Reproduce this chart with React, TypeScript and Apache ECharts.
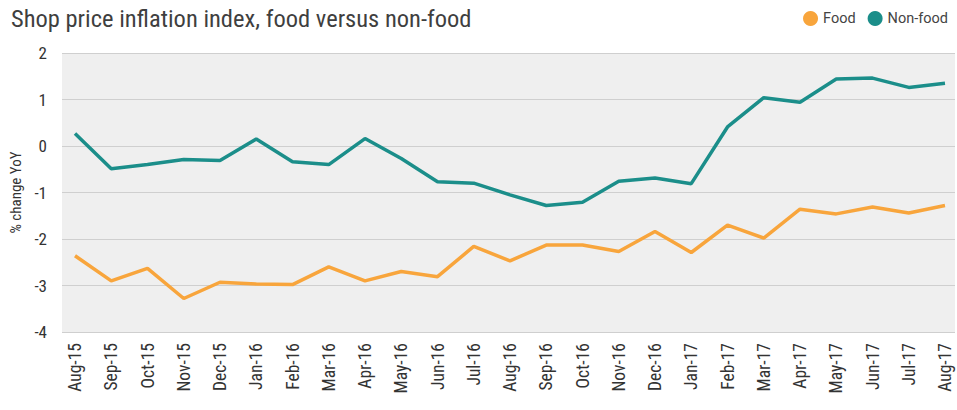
import React, { useEffect, useRef } from "react";
import * as echarts from "echarts";

const categories = [
  "Aug-15","Sep-15","Oct-15","Nov-15","Dec-15","Jan-16","Feb-16","Mar-16","Apr-16","May-16","Jun-16","Jul-16",
  "Aug-16","Sep-16","Oct-16","Nov-16","Dec-16","Jan-17","Feb-17","Mar-17","Apr-17","May-17","Jun-17","Jul-17","Aug-17",
];
const foodValues = [
  -2.36, -2.9, -2.63, -3.28, -2.93, -2.97, -2.98, -2.6, -2.9, -2.7, -2.81, -2.16,
  -2.47, -2.13, -2.13, -2.27, -1.84, -2.29, -1.7, -1.98, -1.36, -1.46, -1.31, -1.44, -1.28,
];
const nonFoodValues = [
  0.27, -0.49, -0.4, -0.29, -0.31, 0.15, -0.34, -0.4, 0.16, -0.27, -0.77, -0.8,
  -1.05, -1.28, -1.21, -0.76, -0.69, -0.81, 0.41, 1.04, 0.94, 1.44, 1.46, 1.26, 1.35,
];
const yTicks = { min: -4, max: 2, interval: 1 };

const FONT = "'Roboto Condensed', Roboto, sans-serif";
const ORANGE = "#f8a53c";
const TEAL = "#1b8e8a";

export default function App() {
  const ref = useRef<HTMLDivElement>(null);
  useEffect(() => {
    if (!ref.current) return;
    const chart = echarts.init(ref.current, undefined, { renderer: "svg" });
    chart.setOption({
      animation: false,
      backgroundColor: "#ffffff",
      title: {
        text: "Shop price inflation index, food versus non-food",
        left: 6,
        top: 1,
        textStyle: { fontFamily: FONT, fontSize: 24.5, fontWeight: "normal", color: "#3f3f3f" },
      },
      legend: {
        right: 4,
        top: 6,
        icon: "circle",
        itemWidth: 15,
        itemHeight: 15,
        itemGap: 12,
        textStyle: { fontFamily: "Roboto, sans-serif", fontSize: 14.5, color: "#444444" },
        data: ["Food", "Non-food"],
      },
      grid: [
        { left: 62, right: 2, top: 53, bottom: 78, show: true, backgroundColor: "#efefef", borderWidth: 0 },
        { left: 75, right: 12, top: 53, bottom: 78 },
      ],
      xAxis: [
        { type: "value", gridIndex: 0, min: 0, max: 1, show: false },
        {
          type: "category",
          gridIndex: 1,
          data: categories,
          boundaryGap: false,
          axisLine: { show: false },
          axisTick: { show: false },
          axisLabel: { rotate: 90, interval: 0, margin: 11, fontFamily: FONT, fontSize: 17.5, color: "#333333" },
        },
      ],
      yAxis: [
        {
          type: "value",
          gridIndex: 0,
          min: yTicks.min,
          max: yTicks.max,
          interval: yTicks.interval,
          name: "% change YoY",
          nameLocation: "middle",
          nameGap: 38,
          nameTextStyle: { fontFamily: FONT, fontSize: 15, color: "#333333" },
          axisLine: { show: false },
          axisTick: { show: false },
          axisLabel: { margin: 15, fontFamily: FONT, fontSize: 17, color: "#333333" },
          splitLine: { show: true, lineStyle: { color: "#cfcfcf", width: 1 } },
        },
        {
          type: "value",
          gridIndex: 1,
          min: yTicks.min,
          max: yTicks.max,
          interval: yTicks.interval,
          show: false,
          splitLine: { show: false },
        },
      ],
      series: [
        {
          name: "Food",
          type: "line",
          xAxisIndex: 1,
          yAxisIndex: 1,
          data: foodValues,
          symbol: "none",
          color: ORANGE,
          lineStyle: { width: 3.5, color: ORANGE },
        },
        {
          name: "Non-food",
          type: "line",
          xAxisIndex: 1,
          yAxisIndex: 1,
          data: nonFoodValues,
          symbol: "none",
          color: TEAL,
          lineStyle: { width: 3.5, color: TEAL },
        },
      ],
    });
    return () => chart.dispose();
  }, []);
  return <div ref={ref} style={{ position: "fixed", left: 0, top: 0, width: 957, height: 410 }} />;
}
